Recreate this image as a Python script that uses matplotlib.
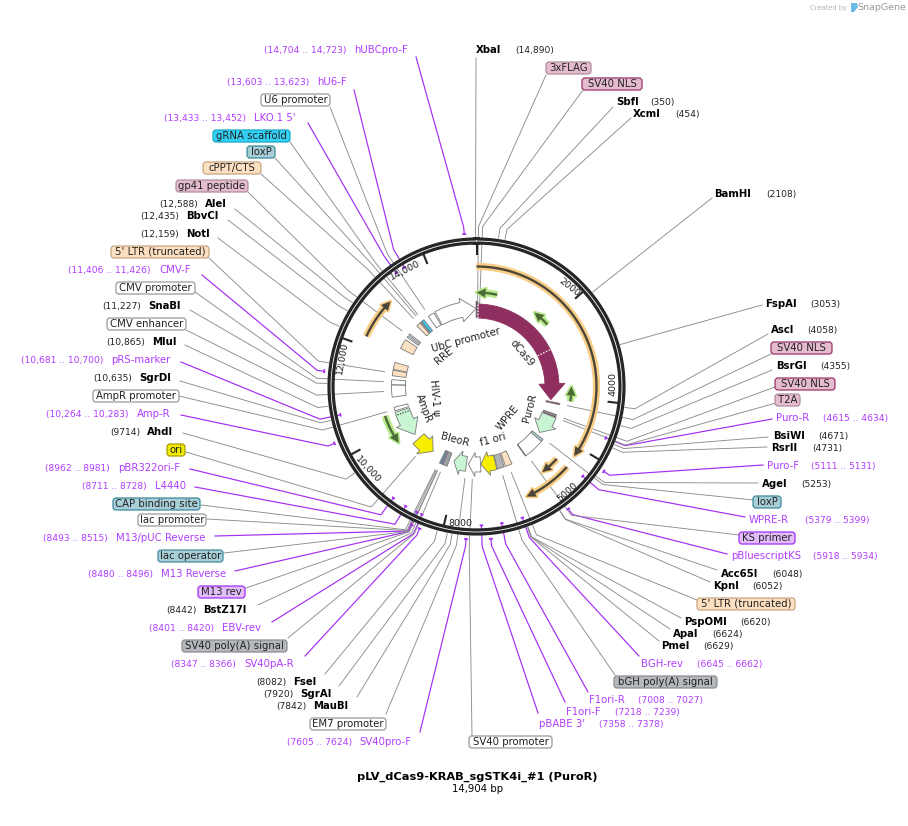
import numpy as np
import matplotlib
matplotlib.use("Agg")
import matplotlib.pyplot as plt
from matplotlib.patches import FancyBboxPatch, Polygon

TOTAL_BP = 14904
TITLE = "pLV_dCas9-KRAB_sgSTK4i_#1 (PuroR)"
SUBTITLE = "14,904 bp"

# restriction sites
enzyme_names = ["XbaI", "SbfI", "XcmI", "BamHI", "FspAI", "AscI", "BsrGI", "BsiWI", "RsrII",
                "AgeI", "Acc65I", "KpnI", "PspOMI", "ApaI", "PmeI", "MauBI", "SgrAI", "FseI",
                "BstZ17I", "AhdI", "SgrDI", "MluI", "SnaBI", "NotI", "BbvCI", "AleI"]
enzyme_bp = [14890, 350, 454, 2108, 3053, 4058, 4355, 4671, 4731, 5253, 6048, 6052, 6620,
             6624, 6629, 7842, 7920, 8082, 8442, 9714, 10635, 10865, 11227, 12159, 12435, 12588]

# primers
primer_names = ["hUBCpro-F", "hU6-F", "LKO.1 5'", "CMV-F", "pRS-marker", "Amp-R", "pBR322ori-F",
                "L4440", "M13/pUC Reverse", "M13 Reverse", "EBV-rev", "SV40pA-R", "SV40pro-F",
                "pBABE 3'", "F1ori-F", "F1ori-R", "BGH-rev", "pBluescriptKS", "WPRE-R",
                "Puro-F", "Puro-R"]
primer_start = [14704, 13603, 13433, 11406, 10681, 10264, 8962, 8711, 8493, 8480, 8401, 8347,
                7605, 7358, 7218, 7008, 6645, 5918, 5379, 5111, 4615]
primer_end = [14723, 13623, 13452, 11426, 10700, 10283, 8981, 8728, 8515, 8496, 8420, 8366,
              7624, 7378, 7239, 7027, 6662, 5934, 5399, 5131, 4634]

# boxed feature labels
box_names = ["3xFLAG", "SV40 NLS", "SV40 NLS", "SV40 NLS", "T2A", "loxP", "KS primer",
             "5' LTR (truncated)", "bGH poly(A) signal", "SV40 promoter", "EM7 promoter",
             "SV40 poly(A) signal", "M13 rev", "lac operator", "lac promoter",
             "CAP binding site", "ori", "AmpR promoter", "CMV enhancer", "CMV promoter",
             "5' LTR (truncated)", "gp41 peptide", "cPPT/CTS", "loxP", "gRNA scaffold",
             "U6 promoter"]
box_bp = [30, 90, 4220, 4555, 4615, 5290, 5945, 6540, 6770, 7560, 7750, 8400, 8480, 8490,
          8520, 8545, 9155, 10525, 11050, 11300, 11555, 12700, 13130, 13225, 13280, 13500]

# features on the inner track: name, start, end (tip of the arrow at end)
arrow_names = ["dCas9", "PuroR", "f1 ori", "SV40 promoter", "BleoR", "ori", "AmpR", "UbC promoter"]
arrow_start = [40, 4620, 6880, 7330, 7760, 9440, 10450, 13700]
arrow_end = [4140, 5220, 7320, 7700, 8150, 8850, 9605, 14890]
rect_start = [4200, 4530, 4575, 5320, 5390, 5985, 6430, 6660, 8290, 8430, 8470, 10490, 10880,
              11230, 11480, 11660, 12280, 12640, 12720, 13060, 13200, 13240, 13480]
rect_end = [4240, 4550, 4620, 5390, 5985, 6000, 6620, 6860, 8420, 8465, 8520, 10590, 11220,
            11370, 11640, 11860, 12560, 12680, 12760, 13180, 13240, 13320, 13660]

# translated ORF arrows: start, end
orange_start = [0, 5465, 5450, 12190]
orange_end = [5196, 5900, 6440, 13030]
green_start = [526, 2025, 4100, 10440]
green_end = [0, 1577, 3726, 9690]

tick_bp = [2000, 4000, 5000, 8000, 10000, 12000, 14000]
tick_labels = ["2000", "4000", "5000", "8000", "10,000", "12,000", "14,000"]

# layout
CX, CY = 476.5, 386.5
enz_name_x = [476, 616, 633, 714, 765, 771, 776, 773, 771, 762, 721, 713, 684, 673, 661, 313,
              300, 293, 203, 147, 139, 152, 148, 186, 186, 205]
enz_pos_x = [515, 650, 675, 766, 810, 807, 820, 818, 812, 801, 772, 752, 740, 712, 703, 276,
             263, 256, 166, 110, 93, 106, 102, 140, 140, 159]
enz_y = [50, 102, 114, 194, 304, 330, 366, 436, 448, 484, 574, 586, 622, 634, 646, 706, 694,
         682, 610, 432, 378, 342, 306, 234, 216, 204]
enz_anchor = [(476, 58), (613, 107), (631, 118), (712, 198), (762, 305), (768, 334), (772, 370),
              (768, 437), (767, 447), (758, 483), (717, 570), (710, 582), (681, 618), (670, 629),
              (659, 641), (357, 697), (339, 686), (325, 674), (258, 605), (183, 433), (180, 381),
              (185, 345), (190, 310), (218, 238), (228, 220), (235, 209)]
pr_name_x = [354, 317, 254, 159, 111, 137, 118, 155, 116, 161, 222, 244, 359, 539, 566, 589, 641,
             731, 749, 767, 776]
pr_pos_x = [264, 227, 164, 68, 21, 46, 45, 82, 43, 88, 149, 171, 287, 599, 615, 638, 697, 813,
            805, 811, 823]
pr_y = [50, 82, 118, 270, 360, 414, 468, 486, 538, 574, 628, 664, 742, 724, 712, 700, 664, 556,
        520, 466, 418]
pr_anchor = [(416, 57), (354, 90), (308, 123), (202, 275), (181, 362), (181, 415), (190, 469),
             (195, 487), (215, 536), (235, 571), (272, 622), (305, 656), (420, 732), (538, 713),
             (565, 702), (588, 692), (639, 656), (727, 554), (745, 517), (763, 465), (772, 419)]
pr_end_r = [153, 139, 139, 153, 139, 153, 139, 139, 139, 153, 139, 153, 153, 139, 153, 139, 139,
            153, 139, 153, 139]
box_x0 = [546, 582, 771, 775, 775, 753, 739, 697, 614, 469, 310, 182, 198, 158, 138, 113, 167, 93,
          107, 116, 111, 176, 203, 247, 213, 261]
box_x1 = [591, 642, 832, 835, 800, 781, 795, 795, 717, 552, 386, 287, 245, 223, 206, 200, 185,
          179, 186, 195, 209, 248, 261, 275, 290, 330]
box_y = [68, 84, 348, 384, 400, 502, 538, 604, 682, 742, 724, 646, 592, 556, 520, 504, 450, 396,
         324, 288, 252, 186, 168, 152, 136, 100]
box_anchor = [(546, 75), (583, 90), (771, 354), (775, 387), (776, 403), (753, 500), (739, 535),
              (697, 600), (615, 675), (472, 736), (386, 714), (288, 638), (246, 588), (224, 553),
              (207, 519), (201, 505), (186, 452), (179, 396), (186, 330), (195, 292), (209, 258),
              (248, 192), (261, 174), (275, 158), (290, 142), (330, 107)]
box_end_r = [82, 82] + [93] * 24

WHITE, GREY_E = "white", "#999999"
PEACH = ("#fde0c2", "#c9a77f")
PINK = ("#e4bccd", "#b08ea0")
NLS = ("#e4bccd", "#993366")
TEAL = ("#a8cfd8", "#3e8a9e")
LILAC = ("#e3bdfb", "#a030f0")
GREYF = ("#b5b9bd", "#8a8d90")
box_styles = [PINK, NLS, NLS, NLS, PINK, TEAL, LILAC, PEACH, GREYF, (WHITE, GREY_E), (WHITE, GREY_E),
              GREYF, LILAC, TEAL, (WHITE, GREY_E), TEAL, ("#f2ea00", "#a8a000"), (WHITE, GREY_E),
              (WHITE, GREY_E), (WHITE, GREY_E), PEACH, PINK, PEACH, TEAL, ("#33d0f5", "#18a8c8"),
              (WHITE, GREY_E)]
arrow_face = ["#8f2f60", "#c8f5d2", "#f7ee00", "white", "#c8f5d2", "#f7ee00", "#c8f5d2", "white"]
rect_face = ["#993366", "#e4bccd", "#993366", "#a8cfd8", "white", "#a030f0", "#fde0c2", "#b0b4b8",
             "#9b9ea2", "#a030f0", "#4f9fb2", "white", "white", "white", "#fde0c2", "#fde0c2",
             "#fde0c2", "white", "white", "#fde0c2", "#5fb4c8", "#33d0f5", "white"]

PURPLE_T = "#b13cff"
PURPLE_L = "#a32cf5"
LINE = "#8c8c8c"
DARK = "#262626"
FS = 7.3


def ring(bp, r):
    a = np.asarray(bp, dtype=float) / TOTAL_BP * 2 * np.pi
    return CX + r * np.sin(a), CY - r * np.cos(a)


def leader(ax, anchor, bp, end_r, color=LINE, lw=0.65, elbow_r=160):
    ex, ey = ring(bp, elbow_r)
    fx, fy = ring(bp, end_r)
    ax.plot([anchor[0], ex, fx], [anchor[1], ey, fy], color=color, lw=lw, zorder=1,
            solid_joinstyle="round")


def band(start, end, r0, r1):
    t = np.linspace(start, end, 40)
    xo, yo = ring(t, r1)
    xi, yi = ring(t[::-1], r0)
    return np.column_stack([np.r_[xo, xi], np.r_[yo, yi]])


def track_arrow(ax, start, end, face, r=78, hw=7.5, head=None, head_hw=12):
    sign = 1 if end > start else -1
    if head is None:
        head = min(450, abs(end - start) * 0.55)
    neck = end - sign * head
    h1 = ring(neck, r + head_hw)
    h2 = ring(end, r)
    h3 = ring(neck, r - head_hw)
    bx, by = ring(np.linspace(start, neck, 40), r + hw)
    ix, iy = ring(np.linspace(neck, start, 40), r - hw)
    pts = np.column_stack([np.r_[bx, h1[0], h2[0], h3[0], ix], np.r_[by, h1[1], h2[1], h3[1], iy]])
    edge = "#8f2f60" if face == "#8f2f60" else "#7a7a7a"
    ax.add_patch(Polygon(pts, closed=True, fc=face, ec=edge, lw=0.6, zorder=4))


def orf(ax, start, end, r, halo, dark):
    sign = 1 if end > start else -1
    head = 9 / r * TOTAL_BP / (2 * np.pi)
    base = end - sign * head
    t = np.linspace(start, base + sign * 10, 80)
    x, y = ring(t, r)
    ax.plot(x, y, color=halo, lw=5.2, solid_capstyle="butt", zorder=3)
    ax.plot(x, y, color=dark, lw=1.7, solid_capstyle="butt", zorder=4)
    a, b, c = ring(base, r + 4.5), ring(end, r), ring(base, r - 4.5)
    ax.add_patch(Polygon([a, b, c], closed=True, fc=halo, ec=halo, lw=2.4, zorder=3.2,
                         joinstyle="round"))
    ax.add_patch(Polygon([a, b, c], closed=True, fc=dark, ec="none", zorder=4))


fig = plt.figure(figsize=(9.08, 8.26), dpi=100)
ax = fig.add_axes([0, 0, 1, 1])
ax.set_xlim(0, 908)
ax.set_ylim(826, 0)
ax.axis("off")

# enzyme labels and leaders
for name, bp, nx, px, y, anchor in zip(enzyme_names, enzyme_bp, enz_name_x, enz_pos_x, enz_y, enz_anchor):
    ax.text(nx, y, name, fontsize=FS, fontweight="bold", va="center", ha="left", color="black")
    pos = f"({bp:,})" if bp >= 10000 else f"({bp})"
    ax.text(px, y + 0.5, pos, fontsize=6.6, va="center", ha="left", color="#222222")
    leader(ax, anchor, bp, 150)

# primers
for name, s, e, nx, px, y, anchor, end_r in zip(primer_names, primer_start, primer_end, pr_name_x,
                                                pr_pos_x, pr_y, pr_anchor, pr_end_r):
    ax.text(nx, y, name, fontsize=FS, va="center", ha="left", color=PURPLE_T)
    pos = f"({s:,} .. {e:,})" if s >= 10000 else f"({s} .. {e})"
    ax.text(px, y + 0.5, pos, fontsize=6.6, va="center", ha="left", color=PURPLE_T)
    mid = (s + e) / 2
    leader(ax, anchor, mid, end_r, color=PURPLE_L, lw=0.85)
    mx, my = ring(np.array([s - 20, e + 20]), end_r)
    ax.plot(mx, my, color=PURPLE_L, lw=1.3, solid_capstyle="butt", zorder=6)

# feature labels
for name, bp, x0, x1, y, anchor, style, end_r in zip(box_names, box_bp, box_x0, box_x1, box_y,
                                                     box_anchor, box_styles, box_end_r):
    ax.add_patch(FancyBboxPatch((x0, y - 6), x1 - x0, 12,
                                boxstyle="round,pad=0,rounding_size=3",
                                fc=style[0], ec=style[1], lw=0.9, zorder=3))
    ax.text((x0 + x1) / 2, y, name, fontsize=FS, va="center", ha="center", color="#222222", zorder=5)
    leader(ax, anchor, bp, end_r)

# backbone ring
theta = np.linspace(0, TOTAL_BP, 400)
rx, ry = ring(theta, 145.5)
ax.plot(rx, ry, color=DARK, lw=5.2, zorder=6)
ax.plot(rx, ry, color="white", lw=0.6, zorder=7)
ax.plot(*zip(ring(0, 143), ring(0, 133)), color=DARK, lw=1.5, zorder=6)

label_xy = [(569, 287), (613, 384), (568, 492), (460, 523), (368, 470), (342, 358), (405, 270)]
label_rot = [-38, 90, 42, 0, -47, 80, 27]
for bp, lab, (tx, ty), rot in zip(tick_bp, tick_labels, label_xy, label_rot):
    ax.plot(*zip(ring(bp, 143), ring(bp, 133)), color=DARK, lw=1.5, zorder=6)
    ax.text(tx, ty, lab, fontsize=6.8, rotation=rot, ha="center", va="center",
            rotation_mode="anchor", color="#222222", zorder=6)

# inner track
for s, e, face in zip(rect_start, rect_end, rect_face):
    ax.add_patch(Polygon(band(s, e, 71, 85), closed=True, fc=face, ec="#7a7a7a", lw=0.6, zorder=4))
for name, s, e, face in zip(arrow_names, arrow_start, arrow_end, arrow_face):
    if name == "dCas9":
        track_arrow(ax, s, e, face, r=75.5, hw=7, head=500, head_hw=13)
    else:
        track_arrow(ax, s, e, face)
ax.add_patch(Polygon(band(-15, 40, 69, 85), closed=True, fc="#6f4a63", ec="#777777", lw=0.5, zorder=5))
for bp in [50, 2625]:
    xs, ys = ring(bp, np.array([68.5, 83]))
    ax.plot(xs, ys, color="white", lw=0.9, ls=(0, (1.2, 1.2)), zorder=6)
xs, ys = ring(10360, np.array([72, 84]))
ax.plot(xs, ys, color="#333333", lw=0.8, ls=(0, (1.2, 1.2)), zorder=6)

# ORF arrows
for s, e, r in zip(orange_start, orange_end, [120, 108, 121, 121]):
    orf(ax, s, e, r, "#f8cd86", "#4b4637")
for s, e, r in zip(green_start, green_end, [94, 94, 95, 96]):
    orf(ax, s, e, r, "#b8e88c", "#4c6a38")

# labels inside the ring
inner_text = ["UbC promoter", "RRE", "dCas9", "HIV-1 \u03c8", "AmpR", "PuroR", "WPRE", "BleoR", "f1 ori"]
inner_xy = [(466, 340), (444, 356), (522, 353), (435, 398), (424, 408), (530, 408), (508, 418),
            (455, 440), (493, 440)]
inner_rot = [15, 40, -50, -85, -70, 75, 50, -15, 15]
for t, (tx, ty), rot in zip(inner_text, inner_xy, inner_rot):
    ax.text(tx, ty, t, fontsize=FS, rotation=rot, ha="center", va="center",
            rotation_mode="anchor", color="#222222", zorder=7)

ax.text(477, 777, TITLE, fontsize=8.2, fontweight="bold", ha="center", va="center")
ax.text(478, 789, SUBTITLE, fontsize=7.3, ha="center", va="center")
ax.text(829, 8, "Created by", fontsize=4.9, color="#b5b5b5", ha="center", va="center")
ax.text(882, 8, "SnapGene", fontsize=6.8, color="#9a9a9a", ha="center", va="center")
ax.add_patch(Polygon([(851, 3), (857, 3), (858, 7), (854, 12), (851, 12)], closed=True, fc="#6db8e8", ec="none"))

fig.savefig("out.png", dpi=100, facecolor="white")
